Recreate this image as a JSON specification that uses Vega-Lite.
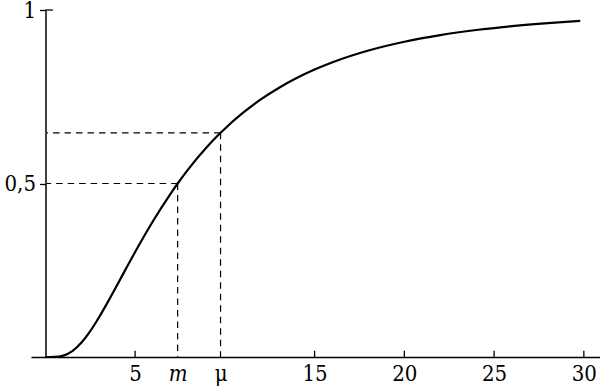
{
  "$schema": "https://vega.github.io/schema/vega-lite/v6.json",
  "width": 569,
  "height": 347,
  "autosize": "none",
  "padding": {"left": 31, "top": 10, "right": 0, "bottom": 31},
  "background": "white",
  "config": {"view": {"stroke": null}, "axis": {"grid": false}},
  "datasets": {
    "curve": [
      {"x": 0, "p": 0},
      {"x": 0.5, "p": 0.00017},
      {"x": 1, "p": 0.00387},
      {"x": 1.5, "p": 0.0169},
      {"x": 2, "p": 0.041},
      {"x": 2.5, "p": 0.0747},
      {"x": 3, "p": 0.1154},
      {"x": 3.5, "p": 0.1604},
      {"x": 4, "p": 0.2076},
      {"x": 4.5, "p": 0.2554},
      {"x": 5, "p": 0.3025},
      {"x": 6, "p": 0.392},
      {"x": 7, "p": 0.4726},
      {"x": 7.37, "p": 0.5},
      {"x": 8, "p": 0.5435},
      {"x": 9, "p": 0.605},
      {"x": 9.76, "p": 0.646},
      {"x": 10, "p": 0.658},
      {"x": 11, "p": 0.7033},
      {"x": 12, "p": 0.7422},
      {"x": 13, "p": 0.7754},
      {"x": 14, "p": 0.8039},
      {"x": 15, "p": 0.8283},
      {"x": 16, "p": 0.8493},
      {"x": 18, "p": 0.8831},
      {"x": 20, "p": 0.9084},
      {"x": 22, "p": 0.9276},
      {"x": 24, "p": 0.9423},
      {"x": 26, "p": 0.9536},
      {"x": 28, "p": 0.9624},
      {"x": 29.8, "p": 0.9688}
    ],
    "marks": [
      {"x": 7.37, "p": 0.5},
      {"x": 9.76, "p": 0.646}
    ],
    "xticks": [{"x": 5}, {"x": 15}, {"x": 20}, {"x": 25}, {"x": 30}]
  },
  "layer": [
    {
      "data": {"name": "curve"},
      "mark": {"type": "line", "color": "black", "strokeWidth": 2.2, "interpolate": "monotone"},
      "encoding": {
        "x": {
          "field": "x", "type": "quantitative",
          "scale": {"domain": [-0.8, 30.9], "nice": false, "zero": false},
          "axis": {
            "title": null,
            "values": [5, 7.37, 9.76, 15, 20, 25, 30],
            "labelExpr": "datum.value == 7.37 ? 'm' : (datum.value == 9.76 ? 'μ' : datum.label)",
            "labelFontStyle": {"condition": {"test": "datum.value == 7.37", "value": "italic"}, "value": "normal"},
            "labelFont": "DejaVu Serif Condensed",
            "labelFontSize": 22,
            "labelColor": "black",
            "labelPadding": 6,
            "labelOverlap": false,
            "labelFlush": false,
            "tickSize": 0,
            "domainColor": "black",
            "domainWidth": 1.5
          }
        },
        "y": {
          "field": "p", "type": "quantitative",
          "scale": {"domain": [0, 1], "nice": false},
          "axis": {
            "title": null,
            "offset": -14.5,
            "values": [0.5, 1],
            "labelExpr": "datum.value == 0.5 ? '0,5' : '1'",
            "labelFont": "DejaVu Serif Condensed",
            "labelFontSize": 22,
            "labelColor": "black",
            "labelPadding": 4,
            "tickSize": 6,
            "tickColor": "black",
            "tickWidth": 1.3,
            "domainColor": "black",
            "domainWidth": 1.5
          }
        }
      }
    },
    {
      "data": {"name": "marks"},
      "mark": {"type": "rule", "color": "black", "strokeWidth": 1.2, "strokeDash": [6.5, 5]},
      "encoding": {
        "x": {"field": "x", "type": "quantitative"},
        "y": {"field": "p", "type": "quantitative"},
        "y2": {"datum": 0}
      }
    },
    {
      "data": {"name": "marks"},
      "mark": {"type": "rule", "color": "black", "strokeWidth": 1.2, "strokeDash": [6.5, 5]},
      "encoding": {
        "x": {"field": "x", "type": "quantitative"},
        "x2": {"datum": 0.08},
        "y": {"field": "p", "type": "quantitative"}
      }
    },
    {
      "data": {"name": "xticks"},
      "mark": {"type": "rule", "color": "black", "strokeWidth": 1.3},
      "encoding": {
        "x": {"field": "x", "type": "quantitative"},
        "y": {"datum": 0, "type": "quantitative"},
        "y2": {"datum": 0.018}
      }
    },
    {
      "data": {"values": [{"a": 0, "b": 0.42, "p": 1}]},
      "mark": {"type": "rule", "color": "black", "strokeWidth": 1.3},
      "encoding": {
        "x": {"field": "a", "type": "quantitative"},
        "x2": {"field": "b"},
        "y": {"field": "p", "type": "quantitative"}
      }
    }
  ]
}
